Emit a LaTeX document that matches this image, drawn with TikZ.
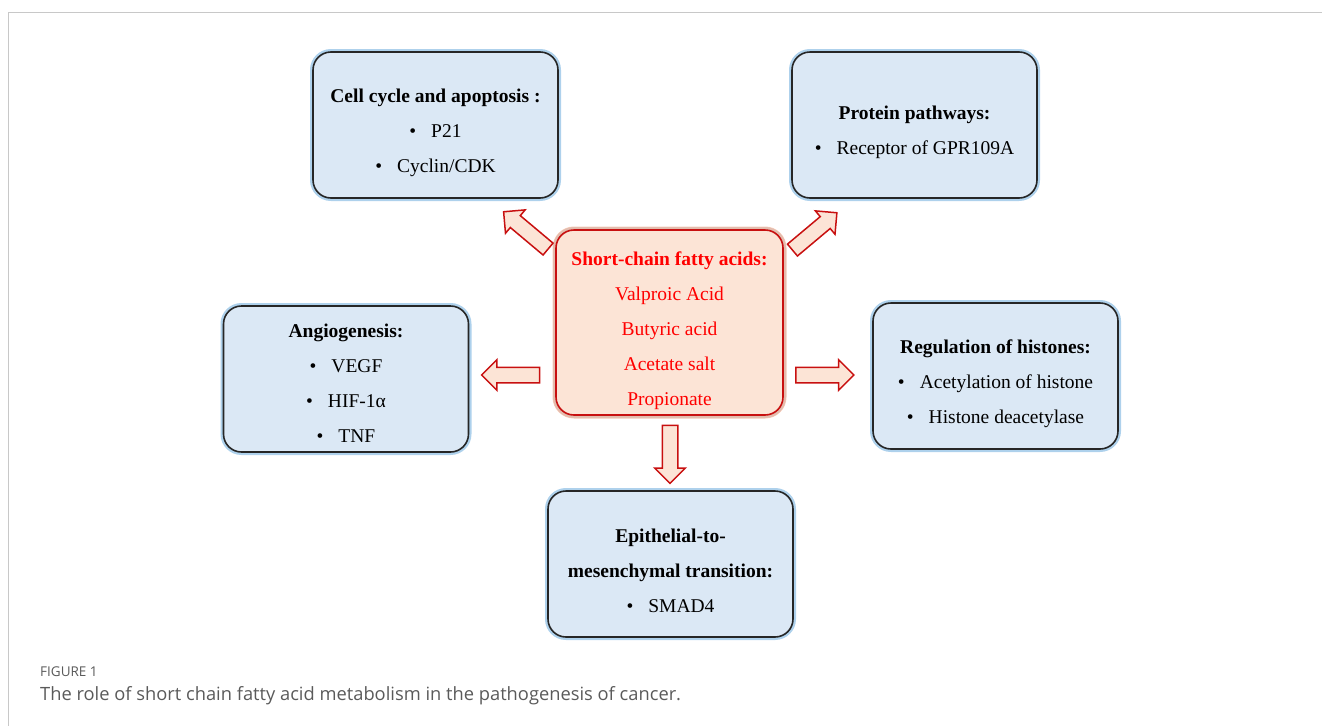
\documentclass[tikz,border=0pt]{standalone}
\usepackage{fontspec}
\setmainfont{Liberation Serif}
\newfontfamily\capfont{Open Sans}
\usepackage{tikz}
\usetikzlibrary{positioning,shapes.arrows}

\definecolor{boxfill}{RGB}{219,232,245}
\definecolor{boxglow}{RGB}{140,190,228}
\definecolor{scfafill}{RGB}{252,228,214}
\definecolor{scfaglow}{RGB}{248,180,150}
\definecolor{scfaline}{RGB}{200,16,16}
\definecolor{scfatext}{RGB}{255,0,0}
\definecolor{capgray}{RGB}{90,90,90}
\definecolor{framegray}{RGB}{200,200,200}

\newcommand{\itm}[1]{\textbullet\hspace{15pt}#1}

\begin{document}
\begin{tikzpicture}[
                x=1pt, y=-1pt,
                block/.style={rectangle, rounded corners=18pt, draw=black!85, line width=1.6pt,
                    fill=boxfill, minimum width=245pt, minimum height=146pt,
                    preaction={draw=boxglow, line width=6pt, opacity=0.7}},
                scfa/.style={block, draw=scfaline, fill=scfafill,
                    minimum width=227pt, minimum height=185pt,
                    preaction={draw=scfaglow, line width=7pt, opacity=0.7}},
                blocktext/.style={align=center, inner sep=0pt, font=\fontsize{19.5}{35}\selectfont},
                scfatext/.style={blocktext, text=scfatext},
                bigarrow/.style={single arrow, draw=scfaline, fill=scfafill, line width=1.5pt,
                    minimum height=58pt, minimum width=29pt, single arrow head extend=7.5pt,
                    single arrow head indent=0pt, inner xsep=0pt, inner ysep=7pt},
                empty/.style={coordinate}
            ]
            \useasboundingbox (0,0) rectangle (1322,726);

            %frame
            \coordinate (ftl) at (8,12);
            \coordinate (ftr) at (1322,12);
            \coordinate (fbl) at (8,726);
            \draw[framegray, line width=1pt] (ftr) -- (ftl) -- (fbl);

            %centre
            \node[scfa]     (SCFA)      at (669.5,322.5) {};
            \node[scfatext] (SCFA text) at (669.5,330.5)
                {\textbf{Short-chain fatty acids:}\\Valproic Acid\\Butyric acid\\Acetate salt\\Propionate};

            %blocks
            \node[block]    (cycle)     at (435.5,125) {};
            \node[block]    (protein)   at (914.5,125) {};
            \node[block]    (angio)     at (346,379)   {};
            \node[block]    (histone)   at (995.5,376) {};
            \node[block]    (emt)       at (670.5,564) {};

            %block texts
            \node[blocktext] (cycle text)   at (435.5,133)
                {\textbf{Cell cycle and apoptosis :}\\\itm{P21}\\\itm{Cyclin/CDK}};
            \node[blocktext] (protein text) at (914.5,132)
                {\textbf{Protein pathways:}\\\itm{Receptor of GPR109A}};
            \node[blocktext] (angio text)   at (346,383)
                {\textbf{Angiogenesis:}\\\itm{VEGF}\\\itm{HIF-1α}\\\itm{TNF}};
            \node[blocktext] (histone text) at (995.5,384)
                {\textbf{Regulation of histones:}\\\itm{Acetylation of histone}\\\itm{Histone deacetylase}};
            \node[blocktext] (emt text)     at (670.5,571)
                {\textbf{Epithelial-to-}\\\textbf{mesenchymal transition:}\\\itm{SMAD4}};

            %arrows
            \node[bigarrow, rotate=140] (toCycle)   at (528.8,232.9) {};
            \node[bigarrow, rotate=40]  (toProtein) at (811.7,233.9) {};
            \node[bigarrow, rotate=180] (toAngio)   at (514.5,375)   {};
            \node[bigarrow]             (toHistone) at (821,375)     {};
            \node[bigarrow, rotate=-90] (toEMT)     at (670,450.5)   {};

            %caption
            \node[anchor=west, inner sep=0pt, text=capgray, font=\capfont\fontsize{13.5}{16}\selectfont]
                (figlabel) at (40,672) {FIGURE 1};
            \node[anchor=west, inner sep=0pt, text=capgray, font=\capfont\fontsize{18.3}{22}\selectfont]
                (caption) at (40,696) {The role of short chain fatty acid metabolism in the pathogenesis of cancer.};

            \end{tikzpicture}
\end{document}
